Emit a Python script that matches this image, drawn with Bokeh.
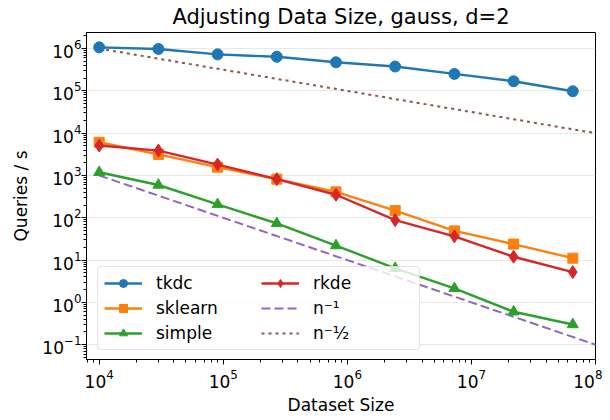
from bokeh.plotting import figure
from bokeh.models import Range1d, Legend, LegendItem, FixedTicker, LogTickFormatter
from bokeh.embed import file_html
from bokeh.resources import INLINE

# ---- data ----
sizes = [1e4, 3e4, 9e4, 2.7e5, 8.1e5, 2.43e6, 7.29e6, 2.187e7, 6.561e7]
tkdc = [1.07e6, 9.8e5, 7.3e5, 6.4e5, 4.75e5, 3.76e5, 2.52e5, 1.69e5, 9.8e4]
sklearn = [6100, 3150, 1570, 820, 410, 148, 49, 23.9, 11.1]
simple = [1190, 596, 207, 73.5, 22, 6.4, 2.14, 0.60, 0.30]
rkde = [5100, 3880, 1810, 820, 350, 88, 36.5, 12.0, 5.2]
ref_x = [1e4, 1e8]
n_inv = [1e3, 1e-1]
n_inv_sqrt = [1e6, 1e4]

major_y = [1e-1, 1e0, 1e1, 1e2, 1e3, 1e4, 1e5, 1e6]
major_x = [1e4, 1e5, 1e6, 1e7, 1e8]

FONT = "DejaVu Sans"

p = figure(width=602, height=417, x_axis_type="log", y_axis_type="log",
           x_range=Range1d(7900, 1.0e8), y_range=Range1d(10 ** -1.35, 10 ** 6.38),
           output_backend="svg", toolbar_location=None,
           title="Adjusting Data Size, gauss, d=2",
           min_border_left=86, min_border_right=7, min_border_top=32, min_border_bottom=51)

p.title.text_font = FONT
p.title.text_font_size = "21px"
p.title.text_font_style = "normal"
p.title.align = "center"
p.title.vertical_align = "top"
p.title.text_color = "black"
p.title.standoff = 3

p.outline_line_color = "black"
p.outline_line_width = 1
p.outline_line_alpha = 1

minor_y = [m * 10 ** k for k in range(-2, 7) for m in range(2, 10)]
minor_x = [m * 10 ** k for k in range(3, 9) for m in range(2, 10)]
p.yaxis.ticker = FixedTicker(ticks=major_y, minor_ticks=minor_y)
p.xaxis.ticker = FixedTicker(ticks=major_x, minor_ticks=minor_x)
for ax in (p.xaxis[0], p.yaxis[0]):
    ax.formatter = LogTickFormatter()
    ax.major_label_text_font = FONT
    ax.major_label_text_font_size = "17px"
    ax.major_label_text_color = "black"
    ax.axis_label_text_font = FONT
    ax.axis_label_text_font_size = "17px"
    ax.axis_label_text_font_style = "normal"
    ax.axis_label_text_color = "black"
    ax.major_tick_in = 0
    ax.major_tick_out = 5
    ax.minor_tick_in = 0
    ax.minor_tick_out = 3
    ax.major_tick_line_color = "black"
    ax.minor_tick_line_color = "black"
    ax.axis_line_color = "black"
p.xaxis.major_label_standoff = 4
p.yaxis.major_label_standoff = 0
p.xaxis.axis_label = "Dataset Size"
p.yaxis.axis_label = "Queries / s"
p.xaxis.axis_label_standoff = 4
p.yaxis.axis_label_standoff = 8

p.xgrid.grid_line_color = None
p.ygrid.grid_line_color = "#e8e8e8"
p.ygrid.grid_line_width = 1

C_TK, C_SK, C_SI, C_RK, C_N1, C_N2 = "#1f77b4", "#ff7f0e", "#2ca02c", "#d62728", "#9467bd", "#8c564b"

l_n1 = p.line(ref_x, n_inv, line_color=C_N1, line_width=2, line_dash="9 4")
l_n2 = p.line(ref_x, n_inv_sqrt, line_color=C_N2, line_width=2, line_dash="3 4")

l_tk = p.line(sizes, tkdc, line_color=C_TK, line_width=2.4)
m_tk = p.scatter(sizes, tkdc, marker="circle", size=11, fill_color=C_TK, line_color=C_TK)
l_sk = p.line(sizes, sklearn, line_color=C_SK, line_width=2.4)
m_sk = p.scatter(sizes, sklearn, marker="square", size=10, fill_color=C_SK, line_color=C_SK)
l_si = p.line(sizes, simple, line_color=C_SI, line_width=2.4)
m_si = p.scatter(sizes, simple, marker="triangle", size=11, fill_color=C_SI, line_color=C_SI)
l_rk = p.line(sizes, rkde, line_color=C_RK, line_width=2.4)
m_rk = p.scatter(sizes, rkde, marker="diamond", size=13, fill_color=C_RK, line_color=C_RK)

legend = Legend(items=[
    LegendItem(label="tkdc", renderers=[l_tk, m_tk]),
    LegendItem(label="sklearn", renderers=[l_sk, m_sk]),
    LegendItem(label="simple", renderers=[l_si, m_si]),
    LegendItem(label="rkde", renderers=[l_rk, m_rk]),
    LegendItem(label="n⁻¹", renderers=[l_n1]),
    LegendItem(label="n⁻½", renderers=[l_n2]),
], location=(11, 9), ncols=2)
legend.label_text_font = FONT
legend.label_text_font_size = "17px"
legend.label_text_color = "black"
legend.glyph_width = 38
legend.glyph_height = 20
legend.label_standoff = 14
legend.label_width = 100
legend.spacing = 5
legend.padding = 6
legend.margin = 0
legend.border_line_color = "#cccccc"
legend.border_line_width = 1
legend.border_radius = 4
legend.background_fill_alpha = 0.8
p.add_layout(legend, "center")

open("out.html", "w").write(file_html(p, INLINE))
